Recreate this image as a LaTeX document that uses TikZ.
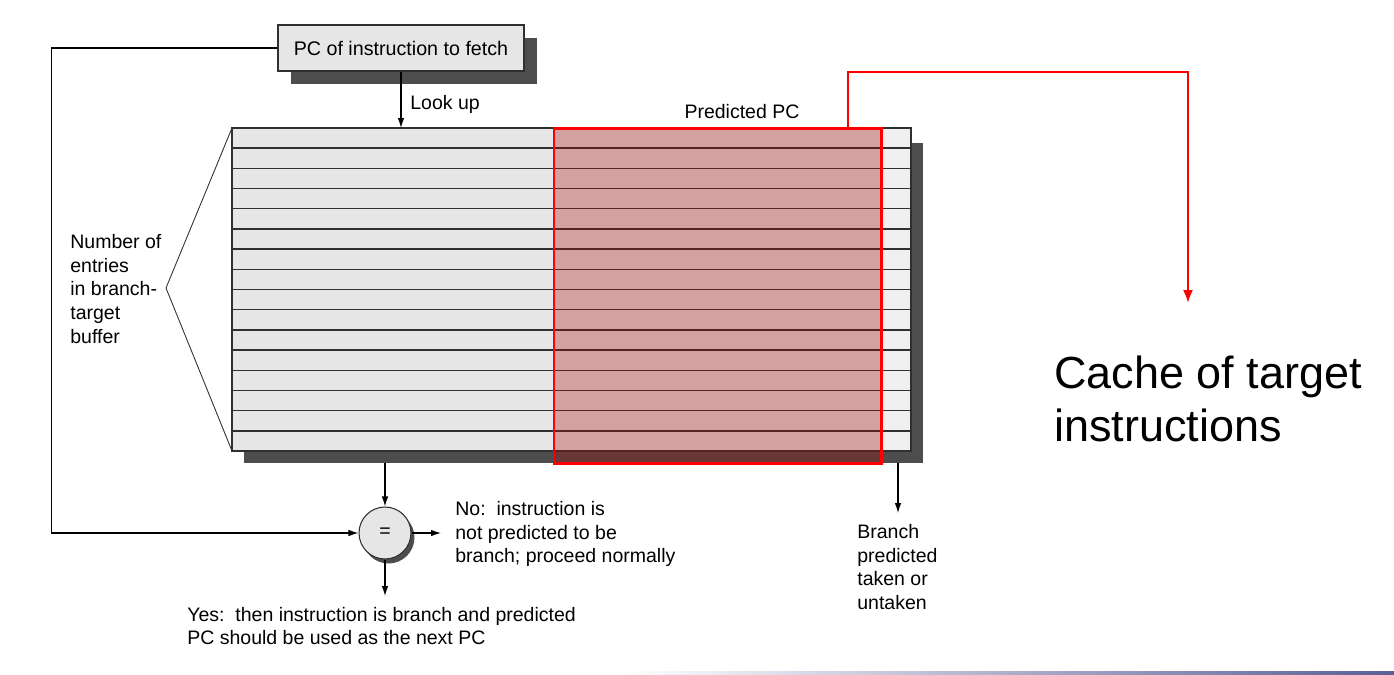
\documentclass[tikz,border=0pt]{standalone}
\usepackage{fontspec}
\setmainfont{Liberation Sans}
\usetikzlibrary{arrows.meta,positioning,shadows}

\definecolor{boxgray}{HTML}{E6E6E6}
\definecolor{colgray}{HTML}{F0F0F0}
\definecolor{shadowgray}{HTML}{4D4D4D}
\definecolor{linegray}{HTML}{303030}
\definecolor{hilite}{RGB}{170,8,8}
\definecolor{barblue}{HTML}{5A5F96}

\tikzset{
	lbl/.style={font=\fontsize{11.1}{13.4}\selectfont, align=left, inner sep=0pt},
	arr/.style={-{Latex[length=2mm,width=1.3mm]}, line width=0.6pt, draw=black},
	redarr/.style={-{Latex[length=2.6mm,width=2mm]}, line width=1.2pt, draw=red},
	fetchbox/.style={draw=linegray, fill=boxgray, line width=0.7pt, minimum width=4.92cm, minimum height=0.92cm, inner sep=0pt,
		drop shadow={shadow xshift=0.26cm, shadow yshift=-0.25cm, fill=shadowgray, opacity=1}},
	cmpcircle/.style={circle, draw=linegray, fill=boxgray, line width=0.6pt, minimum size=1.04cm, inner sep=0pt,
		drop shadow={shadow xshift=0.07cm, shadow yshift=-0.09cm, fill=shadowgray, opacity=1}}
}

\begin{document}
\begin{tikzpicture}[x=0.02cm, y=-0.02cm]
	\useasboundingbox (0,0) rectangle (1394,674);
	
	%table corners
	\coordinate (btbnw) at (232,128);
	\coordinate (btbse) at (911,451);
	
	%table with shadow
	\fill[shadowgray] (244,143) rectangle (923,463);
	\fill[boxgray] (btbnw) rectangle (881,451);
	\fill[colgray] (881,128) rectangle (btbse);
	\foreach \r in {1,...,15}{
		\draw[linegray, line width=0.8pt] (232,128+\r*20.19) -- (911,128+\r*20.19);
	}
	\draw[linegray, line width=0.8pt] (btbnw) rectangle (btbse);
	
	%predicted pc column
	\fill[hilite, fill opacity=0.31] (554,128) rectangle (881,463);
	\draw[red, line width=1.7pt] (554,128) rectangle (881,463);
	
	%brace
	\coordinate (tip) at (166,288);
	\draw[linegray, line width=0.5pt] (btbnw) -- (tip) -- (232,451);
	
	%nodes
	\node[fetchbox] (fetch) at (401,48) {\fontsize{11.2}{13.4}\selectfont PC of instruction to fetch};
	\node[cmpcircle] (eq) at (385,533) {\fontsize{11.1}{13.4}\selectfont =};
	
	\coordinate (btbout) at (385,463);
	\coordinate (noend) at (441,533);
	\coordinate (yesend) at (385,596);
	\coordinate (brstart) at (898,463);
	\coordinate (brend) at (898,513);
	\coordinate (predtop) at (848,128);
	\coordinate (cacheend) at (1188,303);
	
	%arrows
	\draw[arr] (fetch.south) -- (fetch.south |- btbnw);
	\draw[arr] (fetch.west) -- ++(-226,0) |- (eq.west);
	\draw[arr] (btbout) -- (eq.north);
	\draw[arr] (eq.east) -- (noend);
	\draw[arr] (eq.south) -- (yesend);
	\draw[arr] (brstart) -- (brend);
	\draw[redarr] (predtop) |- (1188,72) -- (cacheend);
	
	%labels
	\node[lbl, anchor=west] (lookup) at (410,104) {Look up};
	\node[lbl] (predpc) at (742,112) {Predicted PC};
	\node[lbl, anchor=west] (entries) at (70,289) {Number of\\entries\\in branch-\\target\\buffer};
	\node[lbl, anchor=west] (nolbl) at (455,534) {No:\ \ instruction is\\not predicted to be\\branch; proceed normally};
	\node[lbl, anchor=west] (yeslbl) at (187,626) {Yes:\ \ then instruction is branch and predicted\\PC should be used as the next PC};
	\node[lbl, anchor=west] (brlbl) at (857,567) {Branch\\predicted\\taken or\\untaken};
	\node[lbl, anchor=west, font=\fontsize{25.6}{30.2}\selectfont] (cache) at (1054,399) {Cache of target\\instructions};
	
	%bottom bar
	\shade[left color=white, right color=barblue] (620,671) rectangle (1394,674);
\end{tikzpicture}
\end{document}
